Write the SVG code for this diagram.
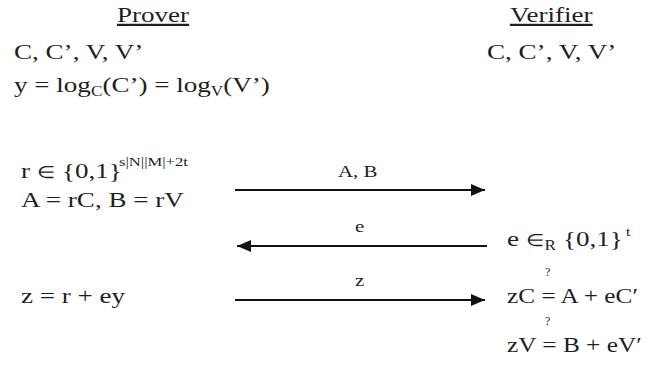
<svg xmlns="http://www.w3.org/2000/svg" width="648" height="367" viewBox="0 0 648 367">
<style>
text { font-family: "Liberation Serif", "Times New Roman", serif; fill: #1e1e1e; }
.m { font-size: 22px; }
.lb { font-size: 17px; }
.sub { font-size: 14px; }
.sup { font-size: 13px; }
.el { font-size: 17px; }
.q { font-size: 12px; }
.arr { stroke: #111; stroke-width: 2; fill: none; marker-end: url(#ah); }
</style>
<defs>
<marker id="ah" markerUnits="userSpaceOnUse" markerWidth="15" markerHeight="14" refX="14" refY="6" orient="auto">
<path d="M0,0 L14,6 L0,12 Z" fill="#111"/>
</marker>
</defs>
<rect width="648" height="367" fill="#fff"/>

<g id="prover">
<text class="m" transform="translate(117,22) scale(1.23,1)" text-decoration="underline">Prover</text>
<text class="m" transform="translate(14,59) scale(1.23,1)">C, C’, V, V’</text>
<text class="m" transform="translate(14,92) scale(1.23,1)">y = log<tspan class="sub" dy="4">C</tspan><tspan dy="-4">(C’) = log</tspan><tspan class="sub" dy="4">V</tspan><tspan dy="-4">(V’)</tspan></text>
<text class="m" transform="translate(21,178) scale(1.23,1)">r <tspan class="el">∈</tspan></text>
<text class="m" transform="translate(62,178) scale(1.23,1)">{0,1}</text>
<text class="sup" transform="translate(119,166) scale(1.28,1)">s|N||M|+2t</text>
<text class="m" transform="translate(21,207) scale(1.23,1)">A = rC, B = rV</text>
<text class="m" transform="translate(21,303) scale(1.23,1)">z = r + ey</text>
</g>

<g id="verifier">
<text class="m" transform="translate(510,22) scale(1.23,1)" text-decoration="underline">Verifier</text>
<text class="m" transform="translate(487,59) scale(1.23,1)">C, C’, V, V’</text>
<text class="m" transform="translate(507,246) scale(1.23,1)">e <tspan class="el">∈</tspan><tspan class="sub" dy="4">R</tspan></text>
<text class="m" transform="translate(563,246) scale(1.23,1)">{0,1}</text>
<text class="sup" transform="translate(626,236) scale(1.2,1)">t</text>
<text class="q" x="545" y="276">?</text>
<text class="m" transform="translate(507,303) scale(1.15,1)">zC = A + eC′</text>
<text class="q" x="545" y="325">?</text>
<text class="m" transform="translate(507,352) scale(1.15,1)">zV = B + eV′</text>
</g>

<g id="connectors">
<line class="arr" x1="235" y1="190" x2="485" y2="190"/>
<text class="lb" transform="translate(338,177) scale(1.23,1)">A, B</text>
<line class="arr" x1="487" y1="246" x2="237" y2="246"/>
<text class="lb" transform="translate(355,232) scale(1.23,1)">e</text>
<line class="arr" x1="235" y1="300" x2="485" y2="300"/>
<text class="lb" transform="translate(355,286) scale(1.23,1)">z</text>
</g>
</svg>
